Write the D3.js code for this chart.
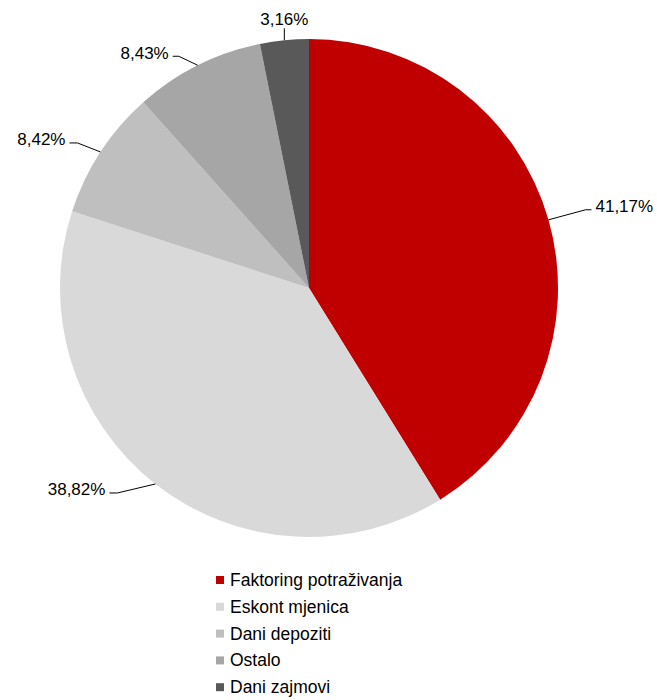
<!DOCTYPE html>
<html><head><meta charset="utf-8">
<script src="https://cdn.jsdelivr.net/npm/d3@7"></script>
<style>
html,body{margin:0;padding:0;background:#fff;}
text{font-family:"Liberation Sans",Arial,sans-serif;fill:#000;}
</style></head>
<body><svg id="c" width="657" height="700"></svg>
<script>
const categories = ["Faktoring potraživanja","Eskont mjenica","Dani depoziti","Ostalo","Dani zajmovi"];
const values = [41.17, 38.82, 8.42, 8.43, 3.16];
const labels = ["41,17%","38,82%","8,42%","8,43%","3,16%"];
const colors = ["#C00000","#D9D9D9","#BFBFBF","#A6A6A6","#595959"];

// label layout: elbow offset from edge, horizontal length, text anchor side
const labelLayout = [
  {ex:37, ey:-10, h:6, side:"start"},
  {ex:-38, ey:9, h:-8, side:"end"},
  {ex:-23, ey:-9, h:-8, side:"end"},
  {ex:-19, ey:-9, h:-6, side:"end"},
  {ex:0, ey:-12, h:0, side:"middle"}
];

const svg = d3.select("#c");
const cx = 309, cy = 288, R = 249;
const g = svg.append("g").attr("transform",`translate(${cx},${cy})`);
const pie = d3.pie().sort(null).value(d=>d)(values);
const arc = d3.arc().innerRadius(0).outerRadius(R);
g.selectAll("path").data(pie).join("path")
  .attr("d",arc).attr("fill",(d,i)=>colors[i]);

pie.forEach((d,i)=>{
  const a = (d.startAngle+d.endAngle)/2;
  const x0 = R*Math.sin(a), y0 = -R*Math.cos(a);
  const L = labelLayout[i];
  const x1 = x0+L.ex, y1 = y0+L.ey;
  const x2 = x1+L.h;
  g.append("polyline").attr("points",`${x0},${y0} ${x1},${y1} ${x2},${y1}`)
    .attr("fill","none").attr("stroke","#000").attr("stroke-width",1);
  let tx = x2, ty = y1;
  if(L.side==="start"){tx = x2+4; ty = y1-3;}
  else if(L.side==="end"){tx = x2-4; ty = y1-3;}
  else {ty = y1-9;}
  g.append("text").attr("x",tx).attr("y",ty)
    .attr("text-anchor",L.side).attr("dominant-baseline","central")
    .attr("font-size","17px").text(labels[i]);
});

const leg = svg.append("g").attr("transform","translate(216,580)");
categories.forEach((c,i)=>{
  const row = leg.append("g").attr("transform",`translate(0,${i*26.8})`);
  row.append("rect").attr("x",0).attr("y",-4).attr("width",8).attr("height",8).attr("fill",colors[i]);
  row.append("text").attr("x",14).attr("y",0).attr("dominant-baseline","central")
    .attr("font-size","17.5px").text(c);
});
</script></body></html>
